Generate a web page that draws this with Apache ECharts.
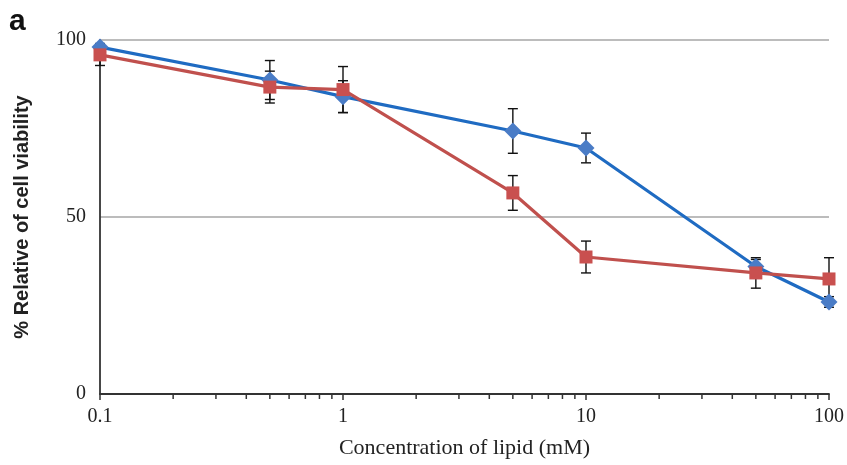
<!DOCTYPE html>
<html>
<head>
<meta charset="utf-8">
<script src="https://cdn.jsdelivr.net/npm/echarts@6/dist/echarts.min.js"></script>
<style>
html, body { margin: 0; padding: 0; background: #fff; }
#main { width: 847px; height: 465px; }
</style>
</head>
<body>
<div id="main"></div>
<script>
// concentrations (mM) and viability (%)
const concentrations = [0.1, 0.5, 1, 5, 10, 50, 100];
const blueValues = [98, 88.7, 84, 74.3, 69.5, 36, 26];
const blueErrors = [1, 5.5, 4.5, 6.3, 4.2, 2, 1.5];
const redValues = [95.8, 86.7, 86, 56.8, 38.7, 34.2, 32.5];
const redErrors = [3, 4.5, 6.5, 4.9, 4.5, 4.3, 6];
const minorTickValues = [0.2, 0.3, 0.4, 0.5, 0.6, 0.7, 0.8, 0.9,
                         2, 3, 4, 5, 6, 7, 8, 9,
                         20, 30, 40, 50, 60, 70, 80, 90];

const serif = '"Liberation Serif", "DejaVu Serif", serif';
const sans = '"Liberation Sans", Arial, sans-serif';

function pairs(xs, ys) {
    return xs.map((x, i) => [x, ys[i]]);
}
function errData(xs, ys, es) {
    return xs.map((x, i) => [x, ys[i], es[i]]);
}

function renderError(params, api) {
    const x = api.value(0), y = api.value(1), e = api.value(2);
    const top = api.coord([x, y + e]);
    const bot = api.coord([x, y - e]);
    const w = 5;
    const style = { stroke: '#111', lineWidth: 1.4 };
    return {
        type: 'group',
        children: [
            { type: 'line', shape: { x1: top[0], y1: top[1], x2: bot[0], y2: bot[1] }, style: style },
            { type: 'line', shape: { x1: top[0] - w, y1: top[1], x2: top[0] + w, y2: top[1] }, style: style },
            { type: 'line', shape: { x1: bot[0] - w, y1: bot[1], x2: bot[0] + w, y2: bot[1] }, style: style }
        ]
    };
}

function renderMinorTick(params, api) {
    const p = api.coord([api.value(0), 0]);
    return {
        type: 'line',
        shape: { x1: p[0], y1: p[1], x2: p[0], y2: p[1] + 5 },
        style: { stroke: '#333', lineWidth: 1.5 }
    };
}

let option = {
    backgroundColor: '#fff',
    animation: false,
    grid: { left: 100, right: 18, top: 40, bottom: 71 },
    graphic: [
        { type: 'text', left: 9, top: 7,
          style: { text: 'a', font: 'bold 30px ' + sans, fill: '#111' } }
    ],
    xAxis: {
        type: 'log',
        logBase: 10,
        min: 0.1,
        max: 100,
        name: 'Concentration of lipid (mM)',
        nameLocation: 'middle',
        nameGap: 43,
        nameTextStyle: { fontFamily: serif, fontSize: 22, color: '#222' },
        axisLine: { lineStyle: { color: '#333', width: 1.8 } },
        axisTick: { show: true, length: 6, lineStyle: { color: '#333', width: 1.5 } },
        axisLabel: { fontFamily: serif, fontSize: 20, color: '#222', margin: 13,
                     formatter: v => String(v) },
        splitLine: { show: false },
        minorTick: { show: false }
    },
    yAxis: {
        type: 'value',
        min: 0,
        max: 100,
        interval: 50,
        name: '% Relative of cell viability',
        nameLocation: 'middle',
        nameGap: 68,
        nameTextStyle: { fontFamily: sans, fontWeight: 'bold', fontSize: 20, color: '#222' },
        axisLine: { show: true, lineStyle: { color: '#333', width: 1.8 } },
        axisTick: { show: false },
        axisLabel: { fontFamily: serif, fontSize: 20, color: '#222', margin: 14 },
        splitLine: { show: true, lineStyle: { color: '#a6a6a6', width: 1.5 } }
    },
    series: [
        {
            type: 'custom',
            renderItem: renderMinorTick,
            data: minorTickValues.map(v => [v]),
            clip: false,
            silent: true,
            z: 1
        },
        {
            type: 'custom',
            renderItem: renderError,
            data: errData(concentrations, blueValues, blueErrors),
            clip: false,
            z: 1
        },
        {
            type: 'custom',
            renderItem: renderError,
            data: errData(concentrations, redValues, redErrors),
            clip: false,
            z: 1
        },
        {
            name: 'blue',
            type: 'line',
            data: pairs(concentrations, blueValues),
            symbol: 'diamond',
            symbolSize: 17,
            lineStyle: { color: '#1f6bc2', width: 3.2 },
            itemStyle: { color: '#4a7cc6' },
            z: 2
        },
        {
            name: 'red',
            type: 'line',
            data: pairs(concentrations, redValues),
            symbol: 'rect',
            symbolSize: 13,
            lineStyle: { color: '#c0504d', width: 3.2 },
            itemStyle: { color: '#c9504f' },
            z: 3
        }
    ]
};

let myChart = echarts.init(document.getElementById('main'));
myChart.setOption(option);
</script>
</body>
</html>
